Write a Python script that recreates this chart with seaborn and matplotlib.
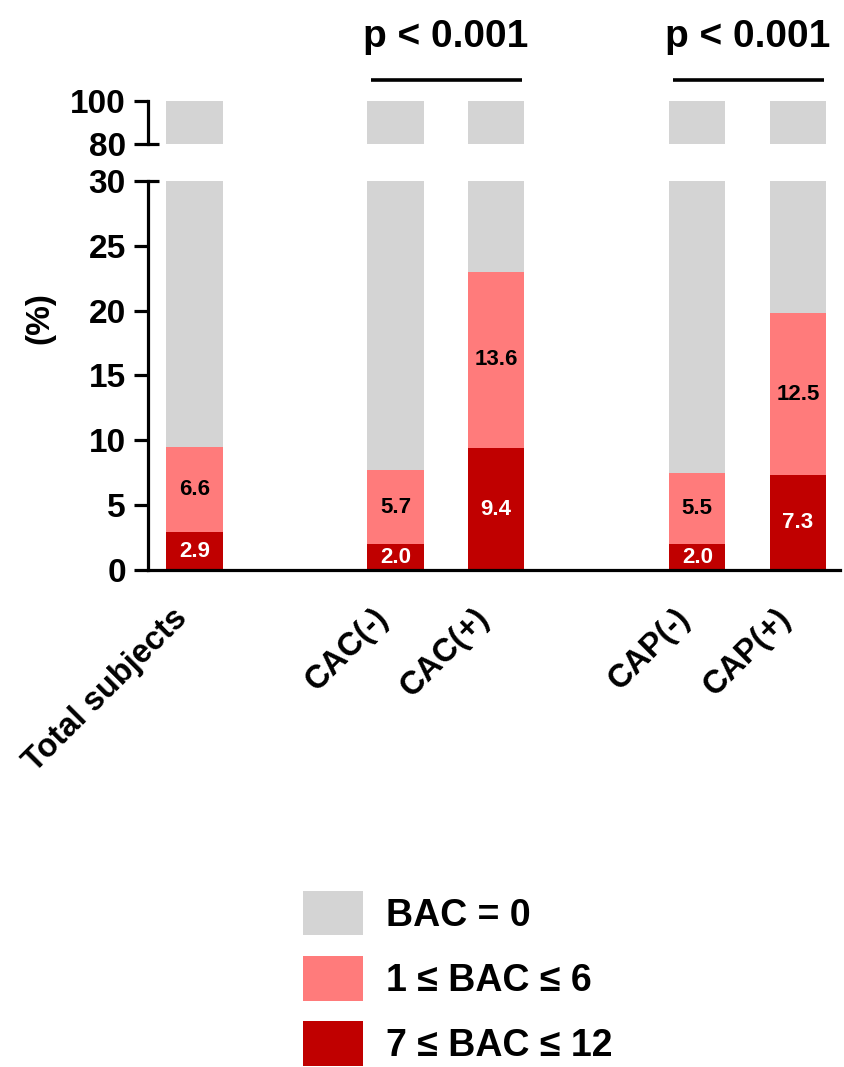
import matplotlib
matplotlib.use("Agg")
import matplotlib.pyplot as plt
import seaborn as sns
import numpy as np
import pandas as pd
from matplotlib.transforms import blended_transform_factory, ScaledTranslation
from matplotlib.patches import Patch

# ---- data ----
groups = ["Total subjects", "CAC(-)", "CAC(+)", "CAP(-)", "CAP(+)"]
bac_7_12 = [2.9, 2.0, 9.4, 2.0, 7.3]
bac_1_6 = [6.6, 5.7, 13.6, 5.5, 12.5]
p_labels = ["p < 0.001", "p < 0.001"]
legend_labels = ["BAC = 0", "1 \u2264 BAC \u2264 6", "7 \u2264 BAC \u2264 12"]

# layout
positions = [0, 2, 3, 5, 6]
comparisons = [(2, 3), (5, 6)]

GRAY = "#d4d4d4"
SALMON = "#ff7b7b"
DARK = "#c00000"

sns.set_style("ticks")
plt.rcParams['font.family'] = ['Liberation Sans', 'DejaVu Sans']
plt.rcParams['font.weight'] = 'bold'
for k in ("text.color", "axes.labelcolor", "xtick.color", "ytick.color",
          "axes.edgecolor"):
    plt.rcParams[k] = "black"

df = pd.DataFrame({
    "pos": positions,
    "group": groups,
    "dark": bac_7_12,
    "salmon": bac_1_6,
})
df["cum_salmon"] = df["dark"] + df["salmon"]
df["full"] = 100.0

fig = plt.figure(figsize=(8.44, 10.67), dpi=100)
ax_top = fig.add_axes([0.1754, 0.8650, 0.82, 0.0403])
ax = fig.add_axes([0.1754, 0.4658, 0.82, 0.3646])

W = 0.56
for a in (ax_top, ax):
    sns.barplot(data=df, x="pos", y="full", native_scale=True, width=W,
                color=GRAY, saturation=1, errorbar=None, linewidth=0, ax=a)
    sns.barplot(data=df, x="pos", y="cum_salmon", native_scale=True, width=W,
                color=SALMON, saturation=1, errorbar=None, linewidth=0, ax=a)
    sns.barplot(data=df, x="pos", y="dark", native_scale=True, width=W,
                color=DARK, saturation=1, errorbar=None, linewidth=0, ax=a)
    a.set_xlim(-0.462, 6.42)
    a.set_xlabel("")
    a.set_ylabel("")
    for s in ("top", "right"):
        a.spines[s].set_visible(False)
    a.spines["left"].set_linewidth(2.3)
    a.spines["bottom"].set_linewidth(2.3)
    a.tick_params(axis="y", direction="out", length=10, width=2.3,
                  labelsize=24, pad=6, colors="black")
    a.tick_params(axis="y", which="minor", direction="in", length=8, width=2.3,
                  colors="black")
    a.yaxis.remove_overlapping_locs = False

# top axis (80-100)
ax_top.set_ylim(80, 100)
ax_top.set_yticks([80, 100])
ax_top.set_yticklabels(["80", "100"], fontweight="bold")
ax_top.set_yticks([80], minor=True)
ax_top.spines["bottom"].set_visible(False)
ax_top.set_xticks([])

# bottom axis (0-30)
ax.set_ylim(0, 30)
ax.set_yticks([0, 5, 10, 15, 20, 25, 30])
ax.set_yticklabels(["0", "5", "10", "15", "20", "25", "30"], fontweight="bold")
ax.set_yticks([30], minor=True)
ax.set_xticks(positions)
ax.set_xticklabels(groups, rotation=45, ha="right", rotation_mode="anchor",
                   fontsize=23.5, fontweight="bold")
ax.tick_params(axis="x", length=0, pad=12)
off = ScaledTranslation(-0.23, -0.16, fig.dpi_scale_trans)
for lab in ax.get_xticklabels():
    lab.set_transform(lab.get_transform() + off)

# segment labels
for p, d, s in zip(df["pos"], df["dark"], df["salmon"]):
    ax.text(p, d / 2, f"{d:.1f}", ha="center", va="center", color="white",
            fontsize=16, fontweight="bold")
    ax.text(p, d + s / 2, f"{s:.1f}", ha="center", va="center", color="black",
            fontsize=16, fontweight="bold")

# significance
tr = blended_transform_factory(ax_top.transData, fig.transFigure)
for (a_, b_), lab in zip(comparisons, p_labels):
    ax_top.plot([a_ - 0.24, b_ + 0.26], [1 - 80 / 1067] * 2, color="black",
                lw=2.6, transform=tr, clip_on=False, solid_capstyle="butt")
    ax_top.text((a_ + b_) / 2, 1 - 37 / 1067, lab, transform=tr, ha="center",
                va="center", fontsize=28, fontweight="bold")

fig.text(40 / 844, 1 - 318 / 1067, "(%)", rotation=90, ha="center", va="center",
         fontsize=24, fontweight="bold")

handles = [Patch(facecolor=GRAY, edgecolor="none"),
           Patch(facecolor=SALMON, edgecolor="none"),
           Patch(facecolor=DARK, edgecolor="none")]
fig.legend(handles, legend_labels, loc="upper left",
           bbox_to_anchor=(0.359, 0.165), frameon=False,
           handlelength=1.6, handleheight=1.45, handletextpad=0.62,
           labelspacing=0.55, borderpad=0, borderaxespad=0,
           prop={"weight": "bold", "size": 27})

fig.savefig("out.png", dpi=100)
